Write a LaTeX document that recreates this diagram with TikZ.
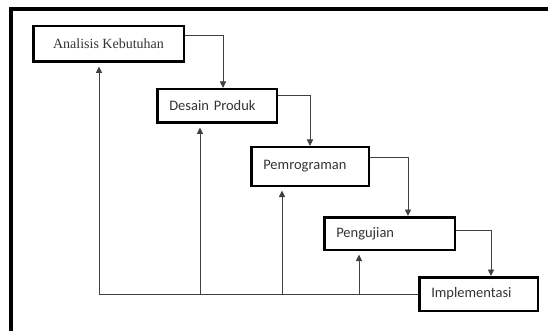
\documentclass[tikz,border=0pt]{standalone}
\usepackage{fontspec}
\setmainfont{Carlito}
\newfontfamily\serifA{Liberation Serif}
\usetikzlibrary{arrows.meta}
\begin{document}
\begin{tikzpicture}[x=1pt,y=-1pt,
  stagebox/.style={draw=black, line width=2.5pt, inner ysep=0pt, inner xsep=12pt,
    font=\fontsize{14.5}{16}\selectfont, text=black!80, align=left},
  flow/.style={draw=black!75, line width=0.9pt},
  arr/.style={flow, -{Triangle[width=6pt,length=6.5pt]}},
  uparr/.style={arr, shorten >=3.5pt}]
\useasboundingbox (0,0) rectangle (548,331);
% outer frame (top and left edges only)
\draw[line width=3.5pt] (11,331) -- (11,9) -- (548,9);
% stages
\node[stagebox, font=\serifA\fontsize{14}{16}\selectfont, align=center,
      minimum width=150.5pt, minimum height=35.5pt, inner xsep=0pt] (A) at (108.5,44) {Analisis Kebutuhan};
\node[stagebox, text width=95.5pt, minimum height=33.5pt] (D) at (217,106) {Desain Produk};
\node[stagebox, text width=93.5pt, minimum height=38.5pt] (P) at (310,166.5) {Pemrograman};
\node[stagebox, text width=106.5pt, minimum height=32.5pt] (G) at (389.5,233.5) {Pengujian};
\node[stagebox, text width=94.5pt, minimum height=33.5pt] (I) at (478.5,294) {Implementasi};
% forward flow
\draw[arr] ([yshift=9pt]A.east) -| ([xshift=6pt]D.north);
\draw[arr] ([yshift=11pt]D.east) -| (P.north);
\draw[arr] ([yshift=9.5pt]P.east) -| ([xshift=18.5pt]G.north);
\draw[arr] ([yshift=3.5pt]G.east) -| ([xshift=12.5pt]I.north);
% feedback
\coordinate (fa) at ([xshift=-9.5pt]A.south |- I.west);
\draw[flow] (I.west) -- (fa);
\draw[uparr] (fa) -- ([xshift=-9.5pt]A.south);
\draw[uparr] ([xshift=-17pt]D.south |- I.west) -- ([xshift=-17pt]D.south);
\draw[uparr] ([xshift=-28pt]P.south |- I.west) -- ([xshift=-28pt]P.south);
\draw[uparr] ([xshift=-30.5pt]G.south |- I.west) -- ([xshift=-30.5pt]G.south);
\end{tikzpicture}
\end{document}
